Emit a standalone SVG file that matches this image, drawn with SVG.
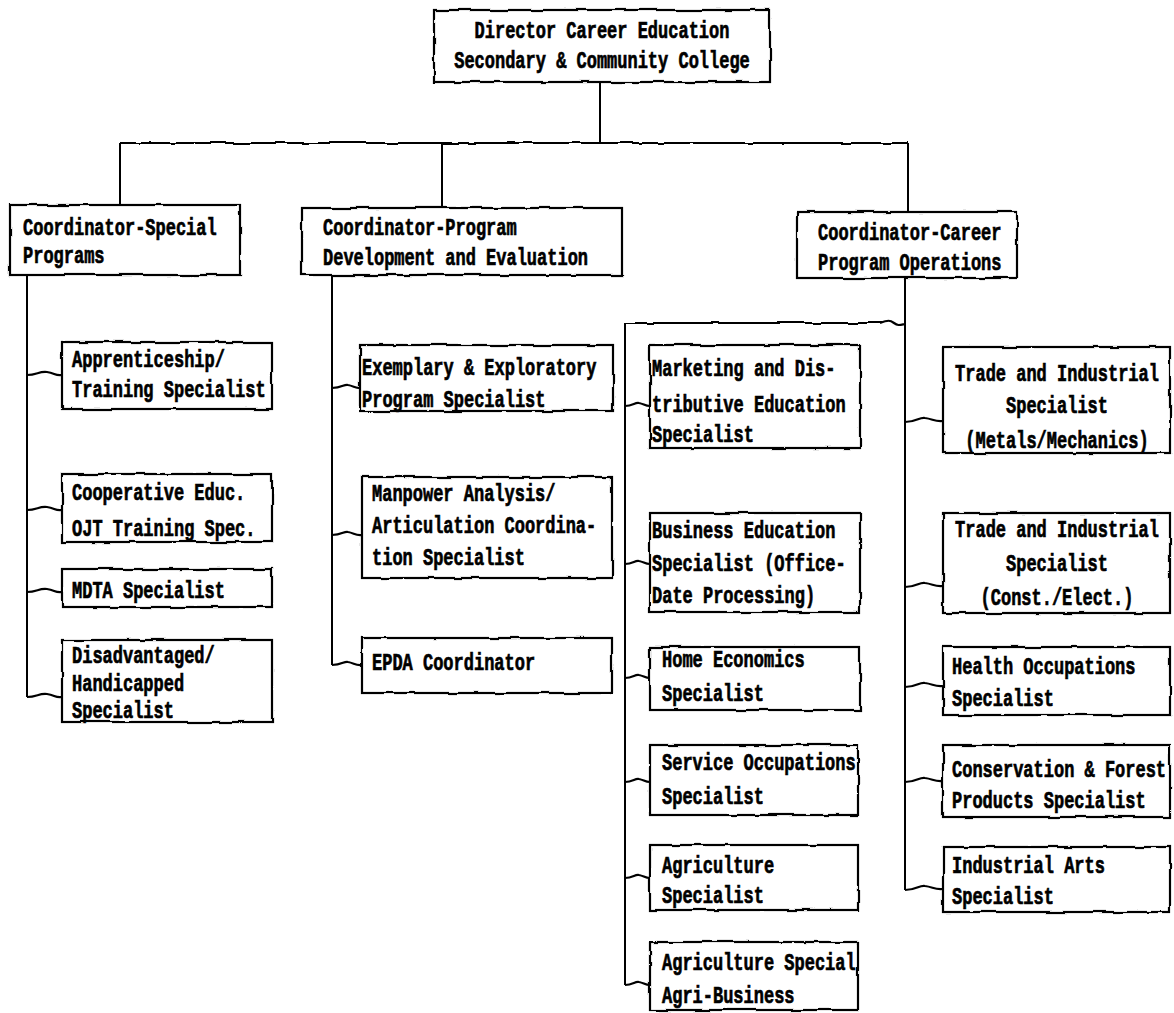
<svg xmlns="http://www.w3.org/2000/svg" width="1174" height="1013" viewBox="0 0 1174 1013">
  <defs>
    <!-- slight wobble so ruled lines look typed/hand-drawn -->
    <filter id="rough" filterUnits="userSpaceOnUse" x="0" y="0" width="1174" height="1013">
      <feTurbulence type="fractalNoise" baseFrequency="0.045" numOctaves="2" seed="7" result="n"/>
      <feDisplacementMap in="SourceGraphic" in2="n" scale="3.5" xChannelSelector="R" yChannelSelector="G"/>
    </filter>
    <style>
      .box { fill: #fff; stroke: #000; stroke-width: 2.2; filter: url(#rough); }
      .ln { fill: none; stroke: #000; stroke-width: 2; }
      .rl { fill: none; stroke: #000; stroke-width: 2.2; filter: url(#rough); }
      .wv { fill: none; stroke: #000; stroke-width: 2.2; }
      text { font-family: "Liberation Mono", "DejaVu Sans Mono", monospace; font-weight: bold; font-size: 17px; fill: #000; stroke: #000; stroke-width: 0.5; }
      .c { text-anchor: middle; }
    </style>
  </defs>
  <rect width="1174" height="1013" fill="#fff"/>

  <g id="connectors">
    <!-- director to coordinators -->
    <path class="ln" d="M600,82 V143"/>
    <path class="rl" d="M120,143 H908"/>
    <path class="ln" d="M120,143 V205"/>
    <path class="ln" d="M442,143 V208"/>
    <path class="ln" d="M908,143 V212"/>

    <!-- special programs branch -->
    <path class="ln" d="M27,275 V697"/>
    <path class="wv" d="M27,375 c10,0 12,-4 20,-3 c8,1 8,4 15,3"/>
    <path class="wv" d="M27,510 c10,0 12,-4 20,-3 c8,1 8,4 15,3"/>
    <path class="wv" d="M27,592 c10,0 12,-4 20,-3 c8,1 8,4 15,3"/>
    <path class="wv" d="M27,697 c10,0 12,-4 20,-3 c8,1 8,4 15,3"/>

    <!-- program development branch -->
    <path class="ln" d="M332,275 V665"/>
    <path class="wv" d="M332,388 c10,0 12,-4 16,-3 c6,1 8,4 14,3"/>
    <path class="wv" d="M332,535 c10,0 12,-4 16,-3 c6,1 8,4 14,3"/>
    <path class="wv" d="M332,665 c10,0 12,-4 16,-3 c6,1 8,4 14,3"/>

    <!-- career operations branch -->
    <path class="ln" d="M905,278 V890"/>
    <path class="rl" d="M625,323 H882"/>
    <path class="wv" d="M880,323 c8,-3 10,-3 14,0 c4,3 6,2 11,1"/>
    <path class="ln" d="M625,323 V985"/>
    <path class="wv" d="M625,406 c8,0 10,-4 14,-3 c5,1 6,3 11,3"/>
    <path class="wv" d="M625,564 c8,0 10,-4 14,-3 c5,1 6,3 11,3"/>
    <path class="wv" d="M625,678 c8,0 10,-4 14,-3 c5,1 6,3 11,3"/>
    <path class="wv" d="M625,782 c8,0 10,-4 14,-3 c5,1 6,3 11,3"/>
    <path class="wv" d="M625,878 c8,0 10,-4 14,-3 c5,1 6,3 11,3"/>
    <path class="wv" d="M625,985 c8,0 10,-4 14,-3 c5,1 6,3 11,3"/>

    <path class="wv" d="M905,422 c12,0 14,-5 20,-4 c8,1 10,4 18,3"/>
    <path class="wv" d="M905,587 c12,0 14,-5 20,-4 c8,1 10,4 18,3"/>
    <path class="wv" d="M905,687 c12,0 14,-5 20,-4 c8,1 10,4 18,3"/>
    <path class="wv" d="M905,782 c12,0 14,-5 20,-4 c8,1 10,4 18,3"/>
    <path class="wv" d="M905,890 c12,0 14,-5 20,-4 c8,1 10,4 18,3"/>
  </g>

  <!-- typed labels are drawn taller than wide: each line is stretched 1.45x vertically about its baseline -->
  <g id="director">
    <rect class="box" x="434" y="10" width="336" height="72"/>
    <text class="c" transform="translate(602,38) scale(1,1.45)">Director Career Education</text>
    <text class="c" transform="translate(602,68) scale(1,1.45)">Secondary &amp; Community College</text>
  </g>

  <g id="coord-special">
    <rect class="box" x="10" y="205" width="230" height="70"/>
    <text transform="translate(23,235) scale(1,1.45)">Coordinator-Special</text>
    <text transform="translate(23,263) scale(1,1.45)">Programs</text>
  </g>

  <g id="coord-program">
    <rect class="box" x="302" y="208" width="320" height="67"/>
    <text transform="translate(323,235) scale(1,1.45)">Coordinator-Program</text>
    <text transform="translate(323,265) scale(1,1.45)">Development and Evaluation</text>
  </g>

  <g id="coord-career">
    <rect class="box" x="797" y="212" width="220" height="66"/>
    <text transform="translate(818,240) scale(1,1.45)">Coordinator-Career</text>
    <text transform="translate(818,270) scale(1,1.45)">Program Operations</text>
  </g>

  <!-- special programs staff -->
  <g id="apprenticeship">
    <rect class="box" x="62" y="342" width="210" height="67"/>
    <text transform="translate(72,367) scale(1,1.45)">Apprenticeship/</text>
    <text transform="translate(72,397) scale(1,1.45)">Training Specialist</text>
  </g>
  <g id="cooperative">
    <rect class="box" x="62" y="474" width="210" height="68"/>
    <text transform="translate(72,500) scale(1,1.45)">Cooperative Educ.</text>
    <text transform="translate(72,536) scale(1,1.45)">OJT Training Spec.</text>
  </g>
  <g id="mdta">
    <rect class="box" x="62" y="569" width="210" height="38"/>
    <text transform="translate(72,598) scale(1,1.45)">MDTA Specialist</text>
  </g>
  <g id="disadvantaged">
    <rect class="box" x="62" y="640" width="210" height="82"/>
    <text transform="translate(72,663) scale(1,1.45)">Disadvantaged/</text>
    <text transform="translate(72,691) scale(1,1.45)">Handicapped</text>
    <text transform="translate(72,718) scale(1,1.45)">Specialist</text>
  </g>

  <!-- program development staff -->
  <g id="exemplary">
    <rect class="box" x="360" y="345" width="253" height="66"/>
    <text transform="translate(362,375) scale(1,1.45)">Exemplary &amp; Exploratory</text>
    <text transform="translate(362,407) scale(1,1.45)">Program Specialist</text>
  </g>
  <g id="manpower">
    <rect class="box" x="362" y="477" width="250" height="101"/>
    <text transform="translate(372,501) scale(1,1.45)">Manpower Analysis/</text>
    <text transform="translate(372,533) scale(1,1.45)">Articulation Coordina-</text>
    <text transform="translate(372,565) scale(1,1.45)">tion Specialist</text>
  </g>
  <g id="epda">
    <rect class="box" x="362" y="638" width="250" height="55"/>
    <text transform="translate(372,670) scale(1,1.45)">EPDA Coordinator</text>
  </g>

  <!-- career operations staff, first column -->
  <g id="marketing">
    <rect class="box" x="650" y="345" width="210" height="103"/>
    <text transform="translate(652,376) scale(1,1.45)">Marketing and Dis-</text>
    <text transform="translate(652,412) scale(1,1.45)">tributive Education</text>
    <text transform="translate(652,442) scale(1,1.45)">Specialist</text>
  </g>
  <g id="business">
    <rect class="box" x="650" y="513" width="210" height="99"/>
    <text transform="translate(652,538) scale(1,1.45)">Business Education</text>
    <text transform="translate(652,571) scale(1,1.45)">Specialist (Office-</text>
    <text transform="translate(652,603) scale(1,1.45)">Date Processing)</text>
  </g>
  <g id="home-economics">
    <rect class="box" x="650" y="647" width="210" height="63"/>
    <text transform="translate(662,667) scale(1,1.45)">Home Economics</text>
    <text transform="translate(662,701) scale(1,1.45)">Specialist</text>
  </g>
  <g id="service">
    <rect class="box" x="650" y="745" width="208" height="70"/>
    <text transform="translate(662,770) scale(1,1.45)">Service Occupations</text>
    <text transform="translate(662,804) scale(1,1.45)">Specialist</text>
  </g>
  <g id="agriculture">
    <rect class="box" x="650" y="845" width="208" height="65"/>
    <text transform="translate(662,873) scale(1,1.45)">Agriculture</text>
    <text transform="translate(662,903) scale(1,1.45)">Specialist</text>
  </g>
  <g id="agri-business">
    <rect class="box" x="650" y="942" width="208" height="68"/>
    <text transform="translate(662,970) scale(1,1.45)">Agriculture Special</text>
    <text transform="translate(662,1003) scale(1,1.45)">Agri-Business</text>
  </g>

  <!-- career operations staff, second column -->
  <g id="trade-metals">
    <rect class="box" x="943" y="347" width="227" height="106"/>
    <text class="c" transform="translate(1057,381) scale(1,1.45)">Trade and Industrial</text>
    <text class="c" transform="translate(1057,413) scale(1,1.45)">Specialist</text>
    <text class="c" transform="translate(1057,448) scale(1,1.45)">(Metals/Mechanics)</text>
  </g>
  <g id="trade-construction">
    <rect class="box" x="943" y="513" width="227" height="100"/>
    <text class="c" transform="translate(1057,537) scale(1,1.45)">Trade and Industrial</text>
    <text class="c" transform="translate(1057,571) scale(1,1.45)">Specialist</text>
    <text class="c" transform="translate(1057,605) scale(1,1.45)">(Const./Elect.)</text>
  </g>
  <g id="health">
    <rect class="box" x="943" y="647" width="227" height="68"/>
    <text transform="translate(952,674) scale(1,1.45)">Health Occupations</text>
    <text transform="translate(952,706) scale(1,1.45)">Specialist</text>
  </g>
  <g id="conservation">
    <rect class="box" x="943" y="745" width="227" height="72"/>
    <text transform="translate(952,777) scale(1,1.45)">Conservation &amp; Forest</text>
    <text transform="translate(952,808) scale(1,1.45)">Products Specialist</text>
  </g>
  <g id="industrial-arts">
    <rect class="box" x="943" y="847" width="227" height="65"/>
    <text transform="translate(952,873) scale(1,1.45)">Industrial Arts</text>
    <text transform="translate(952,904) scale(1,1.45)">Specialist</text>
  </g>
</svg>
